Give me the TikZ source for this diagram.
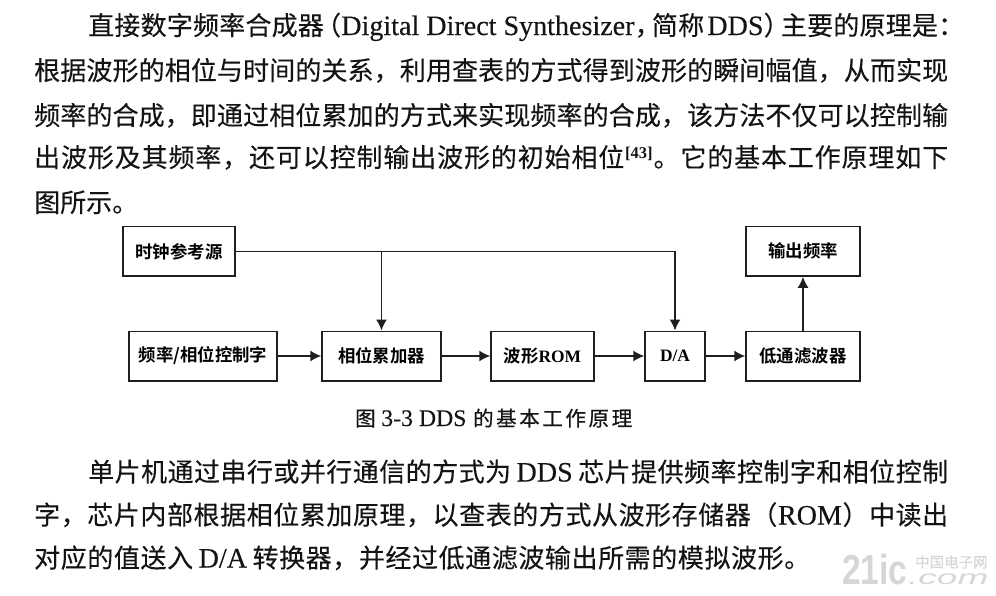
\documentclass[tikz,border=0pt]{standalone}
\usepackage{fontspec}
\setmainfont{Noto Sans CJK SC}[FakeBold=0.2]
\newfontfamily\lat{Liberation Serif}[FakeBold=0.2,Scale=1.08]
\newfontfamily\latb{Liberation Serif Bold}
\newfontfamily\cjkb{Noto Sans CJK SC Bold}
\newfontfamily\capf{Noto Sans CJK SC}[FakeBold=0.6]
\newfontfamily\wm{Liberation Sans Bold}
\newfontfamily\wmi{Liberation Sans Italic}
\usetikzlibrary{arrows.meta}
\tikzset{
  x=1pt,y=-1pt,
  boxn/.style={draw=black!88,line width=1.5pt,minimum height=49.5pt,inner sep=0pt,font=\fontsize{17.4}{19}\selectfont\cjkb},
  conn/.style={draw=black!88,line width=1.5pt,-{Latex[length=11pt,width=11pt]}},
  bodyl/.style={anchor=base west,inner sep=0pt,font=\fontsize{26}{28}\selectfont,text=black!92},
  wmark/.style={inner sep=0pt,text=black!16},
}
\makeatletter
\newcommand{\fitline}[2]{\hbox to #1pt{\@tfor\fl@x:=#2\do{{\fl@x}\hfil}\unskip}}
\makeatother
\begin{document}
\begin{tikzpicture}
\useasboundingbox (0,0) rectangle (996,595);
% paragraph 1
\node[bodyl] (p1) at (88,35) {\fitline{876}{直接数字频率合成器{\hskip-9pt （}{\lat Digital Direct Synthesizer}{，\hskip-9pt}简称{\hskip3pt\lat DDS}{）\hskip-9pt}主要的原理是：}};
\node[bodyl] (p2) at (34,80) {\fitline{914}{根据波形的相位与时间的关系，利用查表的方式得到波形的瞬间幅值，从而实现}};
\node[bodyl] (p3) at (34,125) {\fitline{914}{频率的合成，即通过相位累加的方式来实现频率的合成，该方法不仅可以控制输}};
\node[bodyl] (p4) at (34,167) {\fitline{914}{出波形及其频率，还可以控制输出波形的初始相位{\raisebox{9pt}{\fontsize{16.5}{16.5}\selectfont\latb [43]}}。它的基本工作原理如下}};
\node[bodyl] (p5) at (34,212) {图所示。};
% diagram
\node[boxn,minimum width=112pt] (clk) at (179,251.3) {时钟参考源};
\node[boxn,minimum width=148pt] (ctl) at (203,356) {频率/相位控制字};
\node[boxn,minimum width=119pt] (acc) at (381.5,356) {相位累加器};
\node[boxn,minimum width=103pt] (rom) at (542.5,356) {波形{\latb ROM}};
\node[boxn,minimum width=60pt] (da) at (675,356) {{\latb D/A}};
\node[boxn,minimum width=114pt] (lpf) at (803,356) {低通滤波器};
\node[boxn,minimum width=114pt] (out) at (803,251.3) {输出频率};
\coordinate (jn) at (acc.north |- clk.east);
\draw[conn] (clk.east) -| (da.north);
\draw[conn] (jn) -- (acc.north);
\draw[conn] (ctl) -- (acc);
\draw[conn] (acc) -- (rom);
\draw[conn] (rom) -- (da);
\draw[conn] (da) -- (lpf);
\draw[conn] (lpf) -- (out);
% caption
\node[inner sep=0pt,anchor=base west,font=\fontsize{20.5}{22}\selectfont\capf,text=black!92] (cap) at (355,426) {\fitline{277}{图{\hskip3pt\lat\fontsize{22}{24}\selectfont 3-3 DDS\hskip4pt}的基本工作原理}};
% paragraph 2
\node[bodyl] (q1) at (88,481.5) {\fitline{860}{单片机通过串行或并行通信的方式为{\hskip5pt\lat DDS\hskip5pt}芯片提供频率控制字和相位控制}};
\node[bodyl] (q2) at (34,524.5) {\fitline{914}{字，芯片内部根据相位累加原理，以查表的方式从波形存储器（{\lat ROM}）中读出}};
\node[bodyl] (q3) at (34,567.5) {\fitline{776}{对应的值送入{\hskip5pt\lat D/A\hskip5pt}转换器，并经过低通滤波输出所需的模拟波形。}};
% watermark
\node[wmark,anchor=west,font=\fontsize{42}{42}\selectfont\wm] (w1) at (842,569) {\scalebox{.8}[1]{21ic}};
\node[wmark,anchor=west,font=\fontsize{14.5}{15}\selectfont] (w2) at (915,562) {中国电子网};
\node[wmark,anchor=west,font=\fontsize{20}{20}\selectfont\wmi] (w3) at (908,579) {\scalebox{1.85}[1]{.com}};
\end{tikzpicture}
\end{document}
